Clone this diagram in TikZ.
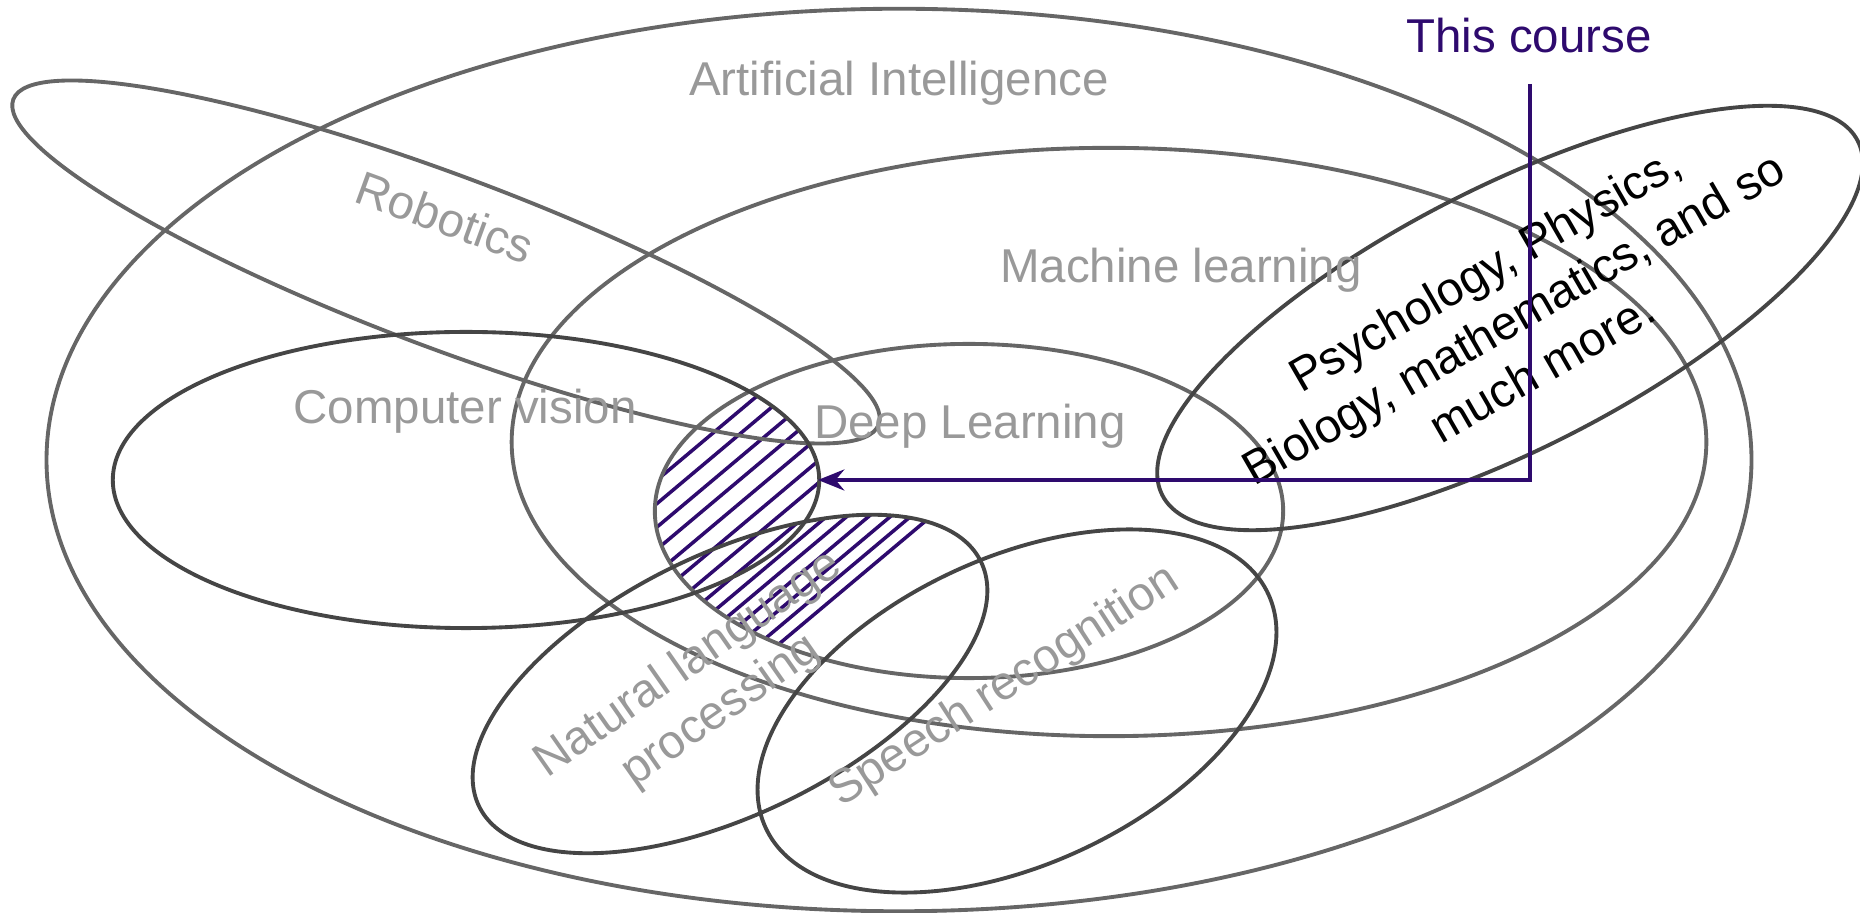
\documentclass[tikz,border=0pt]{standalone}
\usepackage{fontspec}
\setmainfont{Liberation Sans}
\usetikzlibrary{arrows.meta}

\begin{document}
\begin{tikzpicture}[x=0.01cm, y=-0.01cm,
    every node/.style={font=\fontsize{13.5}{16.2}\selectfont, inner sep=0pt},
    area/.style={line width=1.1pt, draw=light},
    subarea/.style={line width=1.1pt, draw=dark},
    field/.style={text=label},
    hatch/.style={line width=1pt, draw=indigo}]
    \colorlet{light}{black!60}
    \colorlet{dark}{black!73}
    \colorlet{label}{black!40}
    \definecolor{indigo}{HTML}{2E0A6E}
    \useasboundingbox (0,0) rectangle (1860,913);

    % hatching: deep learning with vision, then with language
    \begin{scope}
      \clip (969,511) ellipse [x radius=3.14cm, y radius=1.67cm];
      \clip (466,480) ellipse [x radius=3.53cm, y radius=1.48cm];
      \foreach \c in {790,808,826,843,861,879,896}
        \draw[hatch] ({0.643*\c},{0.766*\c}) -- ++(536,-450);
    \end{scope}
    \begin{scope}
      \clip (969,511) ellipse [x radius=3.14cm, y radius=1.67cm];
      \clip[rotate around={26:(730,684)}] (730,684) ellipse [x radius=2.79cm, y radius=1.30cm];
      \foreach \c in {913,927,940,954,968,981,994}
        \draw[hatch] ({0.643*\c},{0.766*\c}) -- ++(536,-450);
    \end{scope}

    \draw[area] (899,460) ellipse [x radius=8.52cm, y radius=4.51cm];
    \draw[area] (1109,442) ellipse [x radius=5.97cm, y radius=2.94cm];
    \draw[area] (969,511) ellipse [x radius=3.14cm, y radius=1.67cm];
    \draw[area, rotate around={-20.6:(446,262)}] (446,262) ellipse [x radius=4.62cm, y radius=0.86cm];
    \draw[subarea] (466,480) ellipse [x radius=3.53cm, y radius=1.48cm];
    \draw[subarea, rotate around={26:(730,684)}] (730,684) ellipse [x radius=2.79cm, y radius=1.30cm];
    \draw[subarea, rotate around={25:(1017,711)}] (1017,711) ellipse [x radius=2.77cm, y radius=1.53cm];
    \draw[subarea, rotate around={27:(1510,318)}] (1510,318) ellipse [x radius=3.90cm, y radius=1.31cm];

    \node[text=indigo] (course) at (1529,36) {This course};
    \node[field] (ai) at (899,83) {Artificial Intelligence};
    \node[field, rotate=-20] (rob) at (445,217) {Robotics};
    \node[field] (ml) at (1181,270) {Machine learning};
    \node[field] (cv) at (465,411) {Computer vision};
    \node[field] (dl) at (970,426) {Deep Learning};
    \node[field, rotate=35, align=center] (nlp) at (705,688) {Natural language\\processing};
    \node[field, rotate=33] (speech) at (1005,687) {Speech recognition};
    \node[rotate=30, align=center] (other) at (1513,318) {Psychology, Physics,\\Biology, mathematics, and so\\much more.};

    \coordinate (course top) at (1530,84);
    \coordinate (cv tip) at (818,480);
    \draw[indigo, line width=1pt, -{Stealth[length=7.5pt, width=6pt, inset=2.5pt]}] (course top) |- (cv tip);
\end{tikzpicture}
\end{document}
